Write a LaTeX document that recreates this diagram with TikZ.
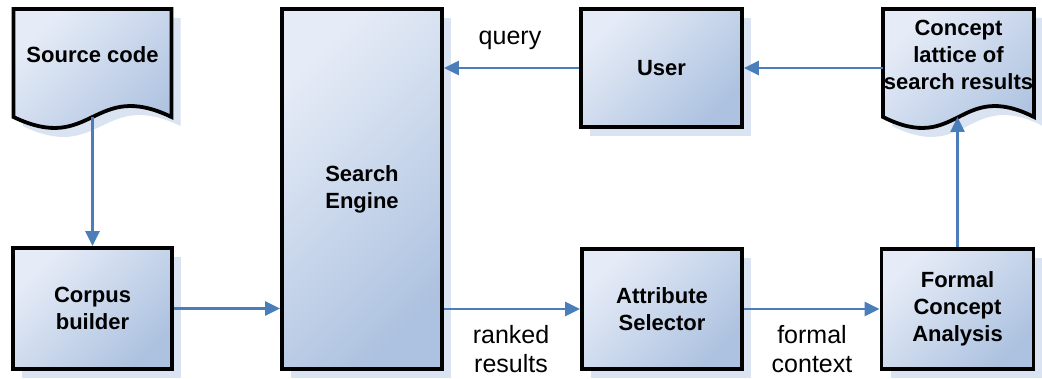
\documentclass[tikz,border=0pt]{standalone}
\usepackage{fontspec}
\setmainfont{Liberation Sans}
\usetikzlibrary{arrows.meta,shadows,calc}

\definecolor{boxlight}{HTML}{E6ECF7}
\definecolor{boxdark}{HTML}{ADC2E0}
\definecolor{shadowblue}{HTML}{DAE3F1}
\definecolor{flowblue}{HTML}{4A7EBB}

\tikzset{
  blockfill/.style={top color=boxlight, bottom color=boxdark, shading angle=45,
    general shadow={fill=shadowblue, shadow xshift=9pt, shadow yshift=-9pt}},
  block/.style={blockfill, draw=black, line width=3.8pt, rectangle, inner sep=0pt,
    font=\fontsize{22}{27}\selectfont\bfseries, align=center},
  docframe/.style={rectangle, inner sep=0pt, outer sep=0pt},
  docoutline/.style={blockfill, draw=black, line width=3.8pt, line join=miter},
  doctext/.style={font=\fontsize{22}{27}\selectfont\bfseries, align=center},
  flow/.style={draw=flowblue, line width=2.5pt, -{Triangle[length=15pt,width=14pt]}},
  note/.style={font=\fontsize{25}{29}\selectfont, align=center},
}

\begin{document}
\begin{tikzpicture}[x=1pt,y=-1pt]
\useasboundingbox (0,0) rectangle (1042,379);

% document-shaped nodes (straight part; the wavy edge hangs off the south side)
\node[docframe, minimum width=158pt, minimum height=108pt] (src) at (92.5,63) {};
\draw[docoutline] (src.south west) -- (src.north west) -- (src.north east) -- (src.south east)
  .. controls ($(src.south)+(0,-38)$) and ($(src.south)+(0,38)$) .. (src.south west) -- cycle;
\node[doctext] (src-text) at ([yshift=8pt]src.center) {Source code};

\node[docframe, minimum width=151pt, minimum height=108pt] (lattice) at (958.5,63) {};
\draw[docoutline] (lattice.south west) -- (lattice.north west) -- (lattice.north east) -- (lattice.south east)
  .. controls ($(lattice.south)+(0,-38)$) and ($(lattice.south)+(0,38)$) .. (lattice.south west) -- cycle;
\node[doctext] (lattice-text) at ([yshift=8pt]lattice.center) {Concept\\lattice of\\search results};

% process blocks
\node[block, minimum width=159pt, minimum height=121pt] (corpus) at (92.5,308.5) {Corpus\\builder};
\node[block, minimum width=160pt, minimum height=360pt] (se) at (362,189) {Search\\Engine};
\node[block, minimum width=161pt, minimum height=118pt] (user) at (661.5,68) {User};
\node[block, minimum width=160pt, minimum height=120pt] (attr) at (662,309) {Attribute\\Selector};
\node[block, minimum width=152pt, minimum height=120pt] (fca) at (957.5,309) {Formal\\Concept\\Analysis};

% data flow
\draw[flow] (src.south) -- (corpus.north);
\draw[flow] (corpus.east) -- (corpus.east -| se.west);
\draw[flow] (se.east |- attr.west) -- (attr.west);
\draw[flow] (attr.east) -- (fca.west);
\draw[flow] (fca.north) -- (fca.north |- lattice.south);
\draw[flow] (lattice.west |- user.east) -- (user.east);
\draw[flow] (user.west) -- (user.west -| se.east);

% edge labels
\node[note] (query) at (510,40) {query};
\node[note] (ranked) at (511,349) {ranked\\results};
\node[note] (context) at (812,349) {formal\\context};
\end{tikzpicture}
\end{document}
